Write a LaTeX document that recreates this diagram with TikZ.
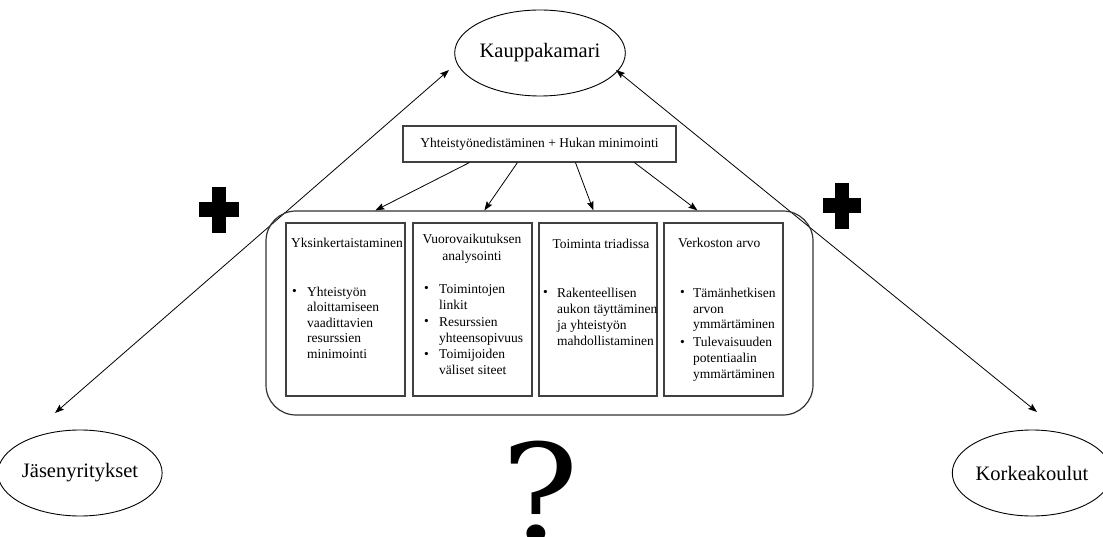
\documentclass[tikz,border=0pt]{standalone}
\usepackage{fontspec}
\setmainfont{Liberation Serif}
\newfontfamily\qmarkfont{DejaVu Serif}
\usetikzlibrary{arrows.meta,shapes.geometric}

\begin{document}
\begin{tikzpicture}[x=1pt,y=-1pt,
  tip/.tip={Stealth[length=9pt,width=6.5pt,inset=1.5pt]},
  actor/.style={draw, line width=0.9pt, ellipse, minimum width=140pt,
    minimum height=86pt, inner sep=0pt, font=\fontsize{20.5}{24}\selectfont},
  link/.style={line width=0.8pt, -tip},
  twoway/.style={line width=0.8pt, tip-tip},
  panel/.style={draw, line width=1.1pt, draw=black!75, rectangle, inner sep=0pt},
  % multi-line texts are placed by the baseline of their last line
  body/.style={font=\fontsize{13.5}{16}\selectfont, inner sep=0pt,
    align=left, anchor=base west},
  dot/.style={font=\fontsize{13.5}{16}\selectfont, inner sep=0pt, anchor=base west},
  heading/.style={font=\fontsize{13.5}{17}\selectfont, inner sep=0pt, anchor=base}
]
\useasboundingbox (0,0) rectangle (1103,537);

% the three actors
\node[actor] (kauppa) at (540,53) {Kauppakamari};
\node[actor] (jasen)  at (80,473) {Jäsenyritykset};
\node[actor, minimum width=139pt] (korkea) at (1032,473) {Korkeakoulut};

% two-way links between the actors and the chamber
\coordinate (jasenEnd)  at (55,413);
\coordinate (kauppaL)   at (449,70);
\coordinate (kauppaR)   at (616,70);
\coordinate (korkeaEnd) at (1037,412);
\draw[twoway] (jasenEnd) -- (kauppaL);
\draw[twoway] (kauppaR) -- (korkeaEnd);

% plus signs
\fill (199,202) rectangle (239,217);
\fill (212,187) rectangle (226,233);
\fill (823,198) rectangle (861,213);
\fill (835,183) rectangle (849,229);

% goal box
\node[panel, minimum width=273pt, minimum height=36pt,
  font=\fontsize{13.5}{16}\selectfont] (goal) at (539.5,144)
  {Yhteistyönedistäminen + Hukan minimointi};

% frame around the four perspectives
\node[draw, line width=1.2pt, draw=black!80, rounded corners=30pt,
  minimum width=547pt, minimum height=204pt, inner sep=0pt] (group) at (539.5,313) {};

\draw[link] ([xshift=67pt]goal.south west)  -- ([xshift=110pt]group.north west);
\draw[link] ([xshift=115pt]goal.south west) -- ([xshift=219pt]group.north west);
\draw[link] ([xshift=173pt]goal.south west) -- ([xshift=328pt]group.north west);
\draw[link] ([xshift=232pt]goal.south west) -- ([xshift=432pt]group.north west);

% the four perspective boxes
\node[panel, minimum width=119pt, minimum height=173pt] (b1) at (345.5,309.5) {};
\node[panel, minimum width=119pt, minimum height=173pt] (b2) at (472.5,309.5) {};
\node[panel, minimum width=118pt, minimum height=173pt] (b3) at (598,309.5) {};
\node[panel, minimum width=119pt, minimum height=173pt] (b4) at (723.5,309.5) {};

% box 1
\node[body] (t1) at (291,248) {Yksinkertaistaminen};
\node[dot] (d1) at (292,296) {•};
\node[body, font=\fontsize{13.5}{15.5}\selectfont] (p1) at (307,358)
  {Yhteistyön\\aloittamiseen\\vaadittavien\\resurssien\\minimointi};

% box 2
\node[heading] (t2a) at (472,244) {Vuorovaikutuksen};
\node[heading] (t2b) at (472,261) {analysointi};
\node[dot] (d2a) at (424,293) {•};
\node[body] (p2a) at (439,309) {Toimintojen\\linkit};
\node[dot] (d2b) at (424,326) {•};
\node[body] (p2b) at (439,342) {Resurssien\\yhteensopivuus};
\node[dot] (d2c) at (424,358) {•};
\node[body] (p2c) at (439,374) {Toimijoiden\\väliset siteet};

% box 3
\node[heading] (t3) at (601,249) {Toiminta triadissa};
\node[dot] (d3) at (543,297) {•};
\node[body] (p3) at (557,345)
  {Rakenteellisen\\aukon täyttäminen\\ja yhteistyön\\mahdollistaminen};

% box 4
\node[body] (t4) at (678,248) {Verkoston arvo};
\node[dot] (d4a) at (680,297) {•};
\node[body] (p4a) at (693,329) {Tämänhetkisen\\arvon\\ymmärtäminen};
\node[dot] (d4b) at (680,346) {•};
\node[body] (p4b) at (693,378) {Tulevaisuuden\\potentiaalin\\ymmärtäminen};

% open question
\node[inner sep=0pt, anchor=base, xscale=1.08,
  font=\qmarkfont\fontsize{134}{134}\selectfont]
  (question) at (540,540) {?};
\end{tikzpicture}
\end{document}
